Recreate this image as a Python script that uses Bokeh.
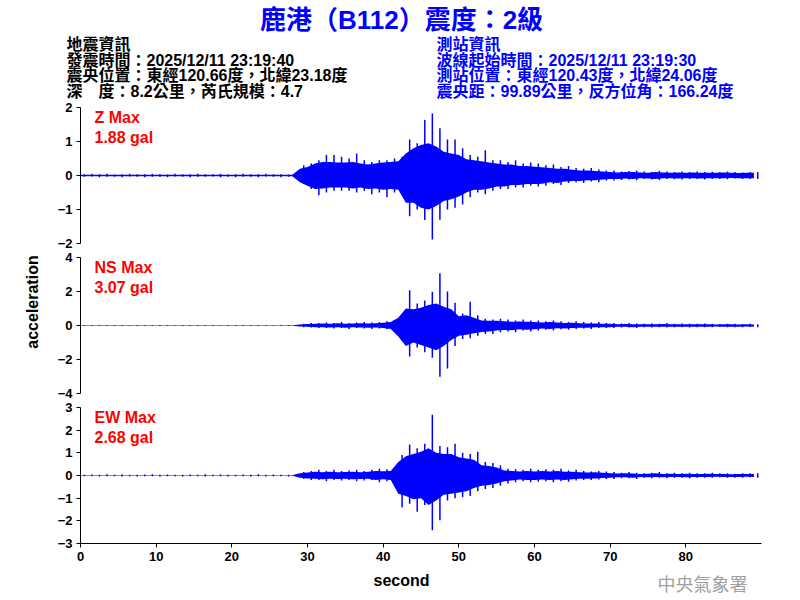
import math
from bokeh.plotting import figure
from bokeh.models import Range1d, FixedTicker, LinearAxis
from bokeh.layouts import column, row
from bokeh.embed import file_html
from bokeh.resources import INLINE
from bokeh.core.properties import value

# ---------------- data ----------------
seconds = list(range(90))

# per-second extreme values (spike tips)
z_max = [0.04, 0.05, 0.04, 0.05, 0.03, 0.04, 0.05, 0.04, 0.04, 0.05,
         0.04, 0.03, 0.05, 0.04, 0.04, 0.05, 0.04, 0.04, 0.05, 0.03,
         0.04, 0.05, 0.04, 0.04, 0.05, 0.04, 0.04, 0.03, 0.05,
         0.30, 0.35, 0.45, 0.60, 0.60, 0.55, 0.50, 0.65, 0.45, 0.40, 0.45,
         0.45, 0.50, 0.55, 1.06, 0.95, 1.63, 1.82, 1.39, 1.06, 1.06,
         0.80, 0.60, 0.55, 0.74, 0.45, 0.45, 0.40, 0.45, 0.35, 0.38,
         0.35, 0.30, 0.32, 0.25, 0.28, 0.22, 0.20, 0.22, 0.18, 0.15,
         0.15, 0.12, 0.13, 0.15, 0.12, 0.10, 0.14, 0.12, 0.10, 0.12,
         0.10, 0.12, 0.10, 0.11, 0.10, 0.12, 0.10, 0.09, 0.10, 0.10]
z_min = [-0.04, -0.03, -0.05, -0.04, -0.04, -0.05, -0.03, -0.04, -0.05, -0.04,
         -0.04, -0.05, -0.03, -0.04, -0.05, -0.04, -0.04, -0.03, -0.05, -0.04,
         -0.05, -0.04, -0.04, -0.05, -0.03, -0.04, -0.05, -0.04, -0.04,
         -0.25, -0.40, -0.58, -0.50, -0.45, -0.45, -0.45, -0.50, -0.45, -0.55, -0.50,
         -0.64, -0.50, -0.55, -1.20, -1.00, -1.31, -1.88, -1.30, -1.00, -0.95,
         -0.85, -0.64, -0.50, -0.55, -0.45, -0.40, -0.40, -0.35, -0.35, -0.30,
         -0.32, -0.30, -0.25, -0.28, -0.22, -0.20, -0.22, -0.18, -0.20, -0.15,
         -0.15, -0.13, -0.12, -0.14, -0.10, -0.12, -0.13, -0.10, -0.11, -0.12,
         -0.10, -0.10, -0.12, -0.10, -0.10, -0.11, -0.09, -0.10, -0.10, -0.10]
# per-second extent of the dense (solid) part of the trace
z_core_hi = [0.02, 0.02, 0.02, 0.02, 0.02, 0.02, 0.02, 0.02, 0.02, 0.02,
             0.02, 0.02, 0.02, 0.02, 0.02, 0.02, 0.02, 0.02, 0.02, 0.02,
             0.02, 0.02, 0.02, 0.02, 0.02, 0.02, 0.02, 0.02, 0.02,
             0.20, 0.25, 0.35, 0.40, 0.40, 0.38, 0.38, 0.40, 0.35, 0.32, 0.35,
             0.38, 0.40, 0.42, 0.65, 0.80, 0.90, 0.95, 0.85, 0.70, 0.65,
             0.60, 0.48, 0.45, 0.42, 0.38, 0.35, 0.32, 0.32, 0.28, 0.28,
             0.26, 0.24, 0.22, 0.20, 0.20, 0.17, 0.15, 0.15, 0.13, 0.12,
             0.10, 0.09, 0.10, 0.10, 0.09, 0.08, 0.10, 0.09, 0.08, 0.09,
             0.08, 0.09, 0.08, 0.08, 0.08, 0.09, 0.08, 0.07, 0.08, 0.08]
z_core_lo = [-0.02, -0.02, -0.02, -0.02, -0.02, -0.02, -0.02, -0.02, -0.02, -0.02,
             -0.02, -0.02, -0.02, -0.02, -0.02, -0.02, -0.02, -0.02, -0.02, -0.02,
             -0.02, -0.02, -0.02, -0.02, -0.02, -0.02, -0.02, -0.02, -0.02,
             -0.20, -0.30, -0.40, -0.38, -0.35, -0.35, -0.35, -0.38, -0.35, -0.40, -0.38,
             -0.42, -0.40, -0.42, -0.80, -0.80, -0.95, -1.00, -0.90, -0.75, -0.70,
             -0.62, -0.50, -0.42, -0.42, -0.38, -0.32, -0.32, -0.28, -0.28, -0.25,
             -0.25, -0.24, -0.20, -0.22, -0.18, -0.16, -0.16, -0.14, -0.14, -0.12,
             -0.10, -0.10, -0.09, -0.10, -0.08, -0.09, -0.10, -0.08, -0.08, -0.09,
             -0.08, -0.08, -0.09, -0.08, -0.08, -0.08, -0.07, -0.08, -0.08, -0.08]

ns_max = [0.03, 0.02, 0.03, 0.02, 0.03, 0.02, 0.02, 0.03, 0.02, 0.03,
          0.02, 0.03, 0.02, 0.02, 0.03, 0.02, 0.03, 0.02, 0.02, 0.03,
          0.02, 0.03, 0.02, 0.03, 0.02, 0.02, 0.03, 0.02, 0.03,
          0.10, 0.15, 0.15, 0.18, 0.15, 0.20, 0.15, 0.18, 0.20, 0.18, 0.20,
          0.25, 0.33, 0.60, 2.07, 1.30, 1.47, 1.98, 3.07, 2.00, 1.34,
          0.70, 1.40, 0.60, 0.40, 0.35, 0.40, 0.35, 0.30, 0.35, 0.30,
          0.30, 0.25, 0.30, 0.25, 0.20, 0.25, 0.20, 0.18, 0.20, 0.15,
          0.15, 0.12, 0.15, 0.12, 0.10, 0.12, 0.10, 0.15, 0.10, 0.12,
          0.10, 0.10, 0.12, 0.10, 0.08, 0.10, 0.10, 0.08, 0.10, 0.08]
ns_min = [-0.02, -0.03, -0.02, -0.03, -0.02, -0.03, -0.02, -0.02, -0.03, -0.02,
          -0.03, -0.02, -0.02, -0.03, -0.02, -0.03, -0.02, -0.03, -0.02, -0.02,
          -0.03, -0.02, -0.03, -0.02, -0.03, -0.02, -0.02, -0.03, -0.02,
          -0.10, -0.12, -0.15, -0.15, -0.18, -0.15, -0.20, -0.15, -0.18, -0.20, -0.18,
          -0.22, -0.28, -0.90, -1.82, -1.30, -1.57, -1.90, -3.02, -2.53, -1.20,
          -0.80, -0.75, -0.60, -0.50, -0.50, -0.40, -0.35, -0.40, -0.30, -0.35,
          -0.30, -0.25, -0.30, -0.22, -0.25, -0.20, -0.18, -0.20, -0.15, -0.15,
          -0.15, -0.12, -0.12, -0.15, -0.10, -0.12, -0.10, -0.12, -0.10, -0.10,
          -0.12, -0.10, -0.10, -0.10, -0.08, -0.10, -0.10, -0.10, -0.08, -0.10]
ns_core_hi = [0.01, 0.01, 0.01, 0.01, 0.01, 0.01, 0.01, 0.01, 0.01, 0.01,
              0.01, 0.01, 0.01, 0.01, 0.01, 0.01, 0.01, 0.01, 0.01, 0.01,
              0.01, 0.01, 0.01, 0.01, 0.01, 0.01, 0.01, 0.01, 0.01,
              0.06, 0.09, 0.10, 0.12, 0.10, 0.13, 0.10, 0.12, 0.13, 0.12, 0.13,
              0.16, 0.20, 0.45, 1.00, 0.95, 1.05, 1.20, 1.30, 1.10, 0.95,
              0.55, 0.60, 0.45, 0.30, 0.28, 0.28, 0.25, 0.22, 0.24, 0.22,
              0.20, 0.18, 0.20, 0.17, 0.15, 0.16, 0.13, 0.12, 0.12, 0.10,
              0.10, 0.08, 0.09, 0.08, 0.07, 0.08, 0.07, 0.09, 0.07, 0.08,
              0.07, 0.07, 0.08, 0.07, 0.06, 0.07, 0.07, 0.06, 0.07, 0.06]
ns_core_lo = [-0.01, -0.01, -0.01, -0.01, -0.01, -0.01, -0.01, -0.01, -0.01, -0.01,
              -0.01, -0.01, -0.01, -0.01, -0.01, -0.01, -0.01, -0.01, -0.01, -0.01,
              -0.01, -0.01, -0.01, -0.01, -0.01, -0.01, -0.01, -0.01, -0.01,
              -0.06, -0.08, -0.10, -0.10, -0.12, -0.10, -0.13, -0.10, -0.12, -0.13, -0.12,
              -0.15, -0.20, -0.65, -1.20, -1.00, -1.15, -1.30, -1.45, -1.20, -0.85,
              -0.60, -0.55, -0.45, -0.38, -0.36, -0.30, -0.26, -0.28, -0.22, -0.25,
              -0.22, -0.18, -0.20, -0.16, -0.17, -0.14, -0.13, -0.13, -0.10, -0.10,
              -0.10, -0.08, -0.08, -0.10, -0.07, -0.08, -0.07, -0.08, -0.07, -0.07,
              -0.08, -0.07, -0.07, -0.07, -0.06, -0.07, -0.07, -0.07, -0.06, -0.07]

ew_max = [0.03, 0.04, 0.03, 0.05, 0.03, 0.04, 0.03, 0.03, 0.04, 0.05,
          0.03, 0.04, 0.03, 0.03, 0.04, 0.03, 0.05, 0.03, 0.04, 0.03,
          0.03, 0.04, 0.03, 0.05, 0.03, 0.04, 0.03, 0.03, 0.04,
          0.15, 0.20, 0.25, 0.20, 0.25, 0.20, 0.22, 0.25, 0.20, 0.25, 0.30,
          0.28, 0.30, 0.90, 1.37, 1.20, 1.40, 2.68, 1.30, 1.25, 1.40,
          1.00, 0.95, 1.05, 0.60, 0.55, 0.45, 0.30, 0.28, 0.25, 0.30,
          0.25, 0.28, 0.25, 0.30, 0.22, 0.25, 0.20, 0.18, 0.20, 0.18,
          0.15, 0.12, 0.15, 0.12, 0.10, 0.12, 0.15, 0.10, 0.12, 0.10,
          0.12, 0.10, 0.10, 0.12, 0.10, 0.10, 0.08, 0.10, 0.10, 0.10]
ew_min = [-0.03, -0.03, -0.04, -0.03, -0.03, -0.04, -0.03, -0.04, -0.03, -0.03,
          -0.04, -0.03, -0.03, -0.04, -0.03, -0.03, -0.04, -0.03, -0.03, -0.04,
          -0.03, -0.03, -0.04, -0.03, -0.04, -0.03, -0.03, -0.04, -0.03,
          -0.15, -0.20, -0.20, -0.25, -0.20, -0.22, -0.20, -0.25, -0.22, -0.20, -0.30,
          -0.25, -0.30, -1.40, -1.25, -1.60, -1.30, -2.41, -1.97, -1.10, -1.00,
          -0.95, -0.90, -0.70, -0.60, -0.55, -0.45, -0.35, -0.30, -0.25, -0.30,
          -0.28, -0.25, -0.30, -0.25, -0.28, -0.22, -0.20, -0.20, -0.18, -0.15,
          -0.15, -0.12, -0.12, -0.15, -0.10, -0.12, -0.10, -0.12, -0.10, -0.10,
          -0.12, -0.10, -0.10, -0.10, -0.08, -0.10, -0.10, -0.10, -0.08, -0.10]
ew_core_hi = [0.015, 0.015, 0.015, 0.015, 0.015, 0.015, 0.015, 0.015, 0.015, 0.015,
              0.015, 0.015, 0.015, 0.015, 0.015, 0.015, 0.015, 0.015, 0.015, 0.015,
              0.015, 0.015, 0.015, 0.015, 0.015, 0.015, 0.015, 0.015, 0.015,
              0.10, 0.13, 0.16, 0.14, 0.17, 0.14, 0.15, 0.17, 0.14, 0.17, 0.20,
              0.19, 0.20, 0.60, 0.85, 0.95, 1.05, 1.20, 1.00, 0.95, 0.95,
              0.80, 0.75, 0.70, 0.45, 0.42, 0.35, 0.22, 0.20, 0.18, 0.20,
              0.18, 0.20, 0.18, 0.20, 0.16, 0.17, 0.14, 0.13, 0.14, 0.12,
              0.10, 0.09, 0.10, 0.09, 0.07, 0.08, 0.10, 0.07, 0.08, 0.07,
              0.08, 0.07, 0.07, 0.08, 0.07, 0.07, 0.06, 0.07, 0.07, 0.07]
ew_core_lo = [-0.015, -0.015, -0.015, -0.015, -0.015, -0.015, -0.015, -0.015, -0.015, -0.015,
              -0.015, -0.015, -0.015, -0.015, -0.015, -0.015, -0.015, -0.015, -0.015, -0.015,
              -0.015, -0.015, -0.015, -0.015, -0.015, -0.015, -0.015, -0.015, -0.015,
              -0.10, -0.13, -0.14, -0.17, -0.14, -0.15, -0.14, -0.17, -0.15, -0.14, -0.20,
              -0.17, -0.20, -0.80, -0.90, -1.05, -1.00, -1.30, -1.10, -0.85, -0.80,
              -0.75, -0.70, -0.55, -0.45, -0.42, -0.35, -0.25, -0.22, -0.18, -0.20,
              -0.20, -0.18, -0.20, -0.18, -0.20, -0.16, -0.14, -0.14, -0.13, -0.11,
              -0.10, -0.08, -0.08, -0.10, -0.07, -0.08, -0.07, -0.08, -0.07, -0.07,
              -0.08, -0.07, -0.07, -0.07, -0.06, -0.07, -0.07, -0.07, -0.06, -0.07]

components = ["Z", "NS", "EW"]
peak_gal = [1.88, 3.07, 2.68]
y_limits = [2, 4, 3]
y_ticks = [[-2, -1, 0, 1, 2], [-4, -2, 0, 2, 4], [-3, -2, -1, 0, 1, 2, 3]]
x_ticks = [0, 10, 20, 30, 40, 50, 60, 70, 80]
x_limit = 90

title_text = "鹿港（B112）震度：2級"
quake_info = ["地震資訊",
              "發震時間：2025/12/11 23:19:40",
              "震央位置：東經120.66度，北緯23.18度",
              "深　度：8.2公里，芮氏規模：4.7"]
station_info = ["測站資訊",
                "波線起始時間：2025/12/11 23:19:30",
                "測站位置：東經120.43度，北緯24.06度",
                "震央距：99.89公里，反方位角：166.24度"]
y_label = "acceleration"
x_label = "second"
credit = "中央氣象署"

# ---------------- styling / layout ----------------
FONT = "Liberation Sans, Noto Sans CJK TC"
BLUE = "#0000FF"
RED = "#FF0000"

W = 800
TOP_H = 100
LEFT_W = 44
PANEL_HS = [150, 150, 166]
BOTTOM_H = 600 - TOP_H - sum(PANEL_HS)
FRAME_LEFT = 80
FRAME_W = 681


def blank(width, height):
    f = figure(width=width, height=height, x_range=Range1d(0, width), y_range=Range1d(0, height),
               x_axis_type=None, y_axis_type=None, output_backend="svg", toolbar_location=None,
               min_border=0, outline_line_color=None)
    f.grid.visible = False
    return f


# top block with title and info (positions measured from the top edge)
top = blank(W, TOP_H)
top.text(x=[401], y=[TOP_H - 19], text=[title_text], text_font=value(FONT), text_font_style="bold",
         text_font_size="26px", text_color=BLUE, text_align="center", text_baseline="middle")
line_tops = [44, 59.5, 75, 91]
top.text(x=[66] * 4, y=[TOP_H - v for v in line_tops], text=quake_info, text_font=value(FONT),
         text_font_style="bold", text_font_size="16px", text_color="black",
         text_align="left", text_baseline="middle")
top.text(x=[436] * 4, y=[TOP_H - v for v in line_tops], text=station_info, text_font=value(FONT),
         text_font_style="bold", text_font_size="16px", text_color=BLUE,
         text_align="left", text_baseline="middle")

# left strip with y label
left_h = sum(PANEL_HS)
left = blank(LEFT_W, left_h)
left.text(x=[32], y=[left_h - (301.5 - TOP_H)], text=[y_label], angle=math.pi / 2,
          text_font=value(FONT), text_font_style="bold", text_font_size="16px", text_color="black",
          text_align="center", text_baseline="middle")

xr = Range1d(0, x_limit)
series = [(z_max, z_min, z_core_hi, z_core_lo),
          (ns_max, ns_min, ns_core_hi, ns_core_lo),
          (ew_max, ew_min, ew_core_hi, ew_core_lo)]
panels = []
for i, (comp, peak, lim, ticks, (hi, lo, chi, clo)) in enumerate(
        zip(components, peak_gal, y_limits, y_ticks, series)):
    last = i == 2
    pw = W - LEFT_W
    p = figure(width=pw, height=PANEL_HS[i], x_range=xr, y_range=Range1d(-lim, lim),
               x_axis_type="linear" if last else None, y_axis_type=None,
               output_backend="svg", toolbar_location=None, outline_line_color=None,
               min_border_left=FRAME_LEFT - LEFT_W,
               min_border_right=pw - (FRAME_LEFT - LEFT_W) - FRAME_W,
               min_border_top=7, min_border_bottom=23 if last else 7)
    p.grid.visible = False
    yax = LinearAxis(ticker=FixedTicker(ticks=ticks))
    p.add_layout(yax, "left")
    axes = [yax]
    if last:
        p.xaxis.ticker = FixedTicker(ticks=x_ticks)
        axes += list(p.xaxis)
    for ax in axes:
        ax.axis_line_color = "black"
        ax.axis_line_width = 1
        ax.major_tick_line_color = "black"
        ax.major_tick_out = 4
        ax.major_tick_in = 0
        ax.minor_tick_out = 0
        ax.minor_tick_in = 0
        ax.major_label_standoff = 4
        ax.major_label_text_font = FONT
        ax.major_label_text_font_style = "bold"
        ax.major_label_text_font_size = "13px"
        ax.major_label_text_color = "black"

    # dense part of the trace as a solid band, spike tips as thin vertical strokes
    p.varea(x=seconds, y1=clo, y2=chi, fill_color=BLUE, fill_alpha=1.0)
    p.segment(x0=[t + 0.5 for t in seconds], y0=lo, x1=[t + 0.5 for t in seconds], y1=hi,
              line_color=BLUE, line_width=1.5)

    upp = 136 / (2 * lim)
    p.text(x=[1.85, 1.85], y=[lim - 10.2 / upp, lim - 30.3 / upp],
           text=[f"{comp} Max", f"{peak:.2f} gal"], text_font=value(FONT), text_font_style="bold",
           text_font_size="16px", text_color=RED, text_align="left", text_baseline="middle")
    panels.append(p)

bottom = blank(W, BOTTOM_H)
bottom.text(x=[401], y=[BOTTOM_H - 14], text=[x_label], text_font=value(FONT), text_font_style="bold",
            text_font_size="16px", text_color="black", text_align="center", text_baseline="middle")
bottom.text(x=[702], y=[BOTTOM_H - 16], text=[credit], text_font=value("Noto Sans CJK TC"),
            text_font_size="18px", text_color="#A0A0A0",
            text_align="center", text_baseline="middle")

layout = column(top, row(left, column(*panels)), bottom)
open("out.html", "w").write(file_html(layout, INLINE))
